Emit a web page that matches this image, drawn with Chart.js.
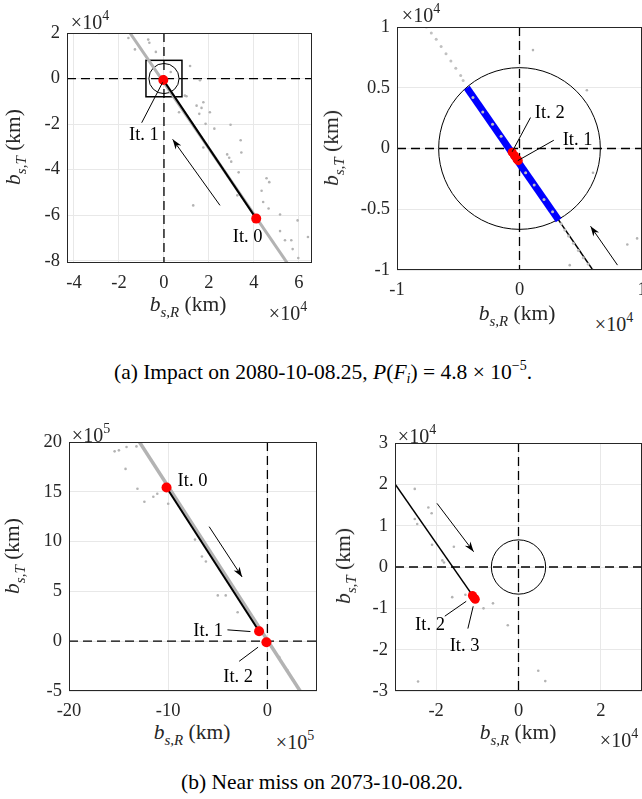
<!DOCTYPE html>
<html>
<head>
<meta charset="utf-8">
<script src="https://cdn.jsdelivr.net/npm/chart.js@4/dist/chart.umd.min.js"></script>
<style>
body{margin:0;background:#fff;width:642px;height:799px;position:relative;overflow:hidden;font-family:"Liberation Serif","Times New Roman",serif;color:#000}
canvas{position:absolute}
.t{position:absolute;white-space:nowrap;transform:translate(-50%,-50%);color:#262626;line-height:1}
.ax{font-size:21.5px}
.ax sub{font-size:15px;font-style:italic;vertical-align:-6px}
.yt{transform:translate(-50%,-50%) rotate(-90deg)}
.mul{font-size:20px}
.mul sup{font-size:14px;vertical-align:9px}
.cap{font-size:21.5px;color:#000}
.cap sup{font-size:14px;vertical-align:9px}
.cap sub{font-size:14px;vertical-align:-4px}
</style>
</head>
<body>
<canvas id="c1" width="328" height="300" style="left:0;top:0"></canvas>
<canvas id="c2" width="338" height="300" style="left:320px;top:0"></canvas>
<canvas id="c3" width="333" height="320" style="left:0;top:400px"></canvas>
<canvas id="c4" width="338" height="320" style="left:320px;top:400px"></canvas>

<div class="t mul" style="left:90px;top:20px">&times;10<sup>4</sup></div>
<div class="t mul" style="left:421px;top:13px">&times;10<sup>4</sup></div>
<div class="t mul" style="left:91px;top:433px">&times;10<sup>5</sup></div>
<div class="t mul" style="left:417px;top:434px">&times;10<sup>4</sup></div>
<div class="t mul" style="left:288px;top:311px">&times;10<sup>4</sup></div>
<div class="t mul" style="left:614px;top:322px">&times;10<sup>4</sup></div>
<div class="t mul" style="left:295px;top:740px">&times;10<sup>5</sup></div>
<div class="t mul" style="left:619px;top:738px">&times;10<sup>4</sup></div>

<div class="t ax" style="left:188px;top:307px"><i>b</i><sub>s,R</sub> (km)</div>
<div class="t ax" style="left:517px;top:316px"><i>b</i><sub>s,R</sub> (km)</div>
<div class="t ax" style="left:192px;top:735px"><i>b</i><sub>s,R</sub> (km)</div>
<div class="t ax" style="left:518px;top:735px"><i>b</i><sub>s,R</sub> (km)</div>
<div class="t ax yt" style="left:16px;top:147px"><i>b</i><sub>s,T</sub> (km)</div>
<div class="t ax yt" style="left:334px;top:148px"><i>b</i><sub>s,T</sub> (km)</div>
<div class="t ax yt" style="left:15px;top:556px"><i>b</i><sub>s,T</sub> (km)</div>
<div class="t ax yt" style="left:346px;top:566px"><i>b</i><sub>s,T</sub> (km)</div>

<div class="t cap" style="left:323px;top:372px">(a) Impact on 2080-10-08.25, <i>P</i>(<i>F<sub>i</sub></i>) = 4.8 &times; 10<sup>&minus;5</sup>.</div>
<div class="t cap" style="left:322px;top:783px">(b) Near miss on 2073-10-08.20.</div>

<script>
// ---- plot (a) left, units x1e4 km
const a1XTicks = [-4, -2, 0, 2, 4, 6];
const a1YTicks = [-8, -6, -4, -2, 0, 2];
const a1Track = [[-1.55, 2.06], [5.55, -8.2]];
const a1Scatter = [[-2.89,2.0],[-1.58,1.78],[-1.29,1.28],[-0.70,1.71],[-0.65,1.57],[-0.36,1.17],[1.16,0.55],[1.6,-0.07],[0.3,0.29],
  [0.93,-0.75],[1.0,-0.78],[1.45,-1.19],[1.75,-1.04],[1.67,-1.29],[2.04,-1.48],[1.57,-1.55],[0.67,-1.48],[1.85,-1.99],[2.24,-2.2],
  [2.96,-2.03],[1.75,-3.03],[2.81,-3.33],[2.9,-3.48],[2.99,-3.65],[3.41,-2.71],[3.44,-3.25],[3.32,-4.12],[3.26,-5.13],[1.3,-5.57],
  [4.56,-4.38],[4.68,-4.55],[4.34,-4.93],[4.41,-5.42],[4.65,-5.71],[5.16,-5.97],[5.94,-6.23],[5.16,-6.7],[5.38,-7.1],[5.66,-7.1],
  [6.4,-6.96],[5.72,-7.49],[5.97,-7.88]];
const a1Iter = [[4.1, -6.15], [-0.03, -0.06]];
const a1Labels = [["It. 1", -0.89, -2.49], ["It. 0", 3.72, -6.96]];
const a1Leaders = [[-0.99, -1.94, -0.06, -0.17]];
const a1Arrow = [2.49, -5.57, 0.385, -2.67];
const a1Circle = 0.67;
const a1Box = 0.8;

// ---- plot (a) right, units x1e4 km
const a2XTicks = [-1, 0, 1];
const a2YTicks = [-1, -0.5, 0, 0.5, 1];
const a2Band = [[-0.43, 0.50], [0.32, -0.59]];
const a2Track = [[-0.76,1.0],[-0.72,0.95],[-0.68,0.9],[-0.64,0.84],[-0.6,0.78],[-0.56,0.72],[-0.52,0.66],[-0.48,0.6],[-0.46,0.56],
  [-0.38,0.42],[-0.3,0.3],[-0.22,0.2],[-0.15,0.1],[0.05,-0.2],[0.12,-0.3],[0.2,-0.42],[0.27,-0.52],
  [0.34,-0.62],[0.37,-0.67],[0.4,-0.72],[0.44,-0.78],[0.48,-0.84],[0.52,-0.9],[0.56,-0.95],[0.6,-1.0]];
const a2Scatter = [[0.11,0.81],[0.55,0.48],[0.6,-0.2],[0.41,-0.96],[0.88,-0.79],[0.96,-0.74]];
const a2Path = [[4.1, -6.15], [-0.02, -0.09]];
const a2Iter = [[-0.06,-0.03],[-0.04,-0.06],[-0.02,-0.09],[-0.01,-0.1]];
const a2Labels = [["It. 2", 0.247, 0.293], ["It. 1", 0.474, 0.068]];
const a2Leaders = [[0.09, 0.255, -0.06, -0.027], [0.28, 0.068, -0.014, -0.10]];
const a2Arrow = [0.80, -0.96, 0.58, -0.64];
const a2Circle = 0.66;

// ---- plot (b) left, units x1e5 km
const b1XTicks = [-20, -10, 0];
const b1YTicks = [-5, 0, 5, 10, 15, 20];
const b1Track = [[-12.9, 20], [3.3, -5]];
const b1Scatter = [[-15.4,19.06],[-14.97,19.16],[-14.2,19.5],[-13.2,19.56],[-14.3,17.3],[-13.1,15.3],[-12.4,14.0],[-11.5,14.5],
  [-11.1,14.8],[-10,13.8],[-6.6,8.5],[-5,4.6],[-7.3,10.2],[-6.2,8.0],[-4.2,4.6],[-3.0,2.9],[1.2,-1.6],[2.0,-2.9],[2.6,-3.9],[3.0,-4.6]];
const b1Iter = [[-10.17, 15.43], [-0.84, 1.0], [-0.1, -0.1]];
const b1Labels = [["It. 0", -7.55, 16.03], ["It. 1", -5.97, 0.97], ["It. 2", -2.95, -3.63]];
const b1Leaders = [[-4.03, 1.14, -1.71, 0.97], [-2.85, -2.02, -0.94, -0.6]];
const b1Arrow = [-5.87, 11.5, -2.55, 6.45];

// ---- plot (b) right, units x1e4 km
const b2XTicks = [-2, 0, 2];
const b2YTicks = [-3, -2, -1, 0, 1, 2, 3];
const b2Path = [[-3.0, 2.01], [-1.1, -0.71]];
const b2Scatter = [[-2.52,1.89],[-2.19,1.44],[-2.11,1.3],[-2.52,1.16],[-2.46,1.04],[-2.1,0.54],[-1.85,0.16],[-1.81,0.11],[-1.57,0.49],
  [-1.61,-0.73],[-1.29,-0.67],[-0.85,-1.0],[-0.62,-0.88],[-0.26,-1.41],[-2.44,-2.77],[0.48,-2.51],[0.65,-2.76]];
const b2Iter = [[-1.12,-0.69],[-1.09,-0.73],[-1.07,-0.76],[-1.05,-0.78]];
const b2Labels = [["It. 2", -2.15, -1.41], ["It. 3", -1.31, -1.92]];
const b2Leaders = [[-1.79, -1.19, -1.27, -0.83], [-1.23, -1.49, -1.10, -0.95]];
const b2Arrow = [-1.98, 1.54, -1.09, 0.37];
const b2Circle = 0.66;

const toXY = arr => arr.map(p => ({x: p[0], y: p[1]}));
const seg = (pts, color, w) => ({data: toXY(pts), showLine: true, borderColor: color, borderWidth: w, pointRadius: 0, fill: false});
const dots = (pts, color, r) => ({data: toXY(pts), showLine: false, pointRadius: r, pointBackgroundColor: color, pointBorderWidth: 0, borderColor: color});

const GRAY = '#b3b3b3';
const FAMILY = '"Liberation Serif", "Times New Roman", serif';
const FONT = '18.5px ' + FAMILY;

const overlay = {
  id: 'overlay',
  beforeDatasetsDraw(chart, args, o) {
    const {ctx, chartArea: a, scales: {x, y}} = chart;
    ctx.save();
    ctx.beginPath(); ctx.rect(a.left, a.top, a.width, a.height); ctx.clip();
    ctx.strokeStyle = '#000'; ctx.lineWidth = 1.3; ctx.setLineDash([9, 5]);
    ctx.beginPath();
    ctx.moveTo(a.left, y.getPixelForValue(0)); ctx.lineTo(a.right, y.getPixelForValue(0));
    ctx.moveTo(x.getPixelForValue(0), a.top); ctx.lineTo(x.getPixelForValue(0), a.bottom);
    ctx.stroke();
    ctx.setLineDash([]);
    ctx.lineWidth = 1;
    if (o.circle) {
      const r = x.getPixelForValue(o.circle) - x.getPixelForValue(0);
      ctx.beginPath(); ctx.arc(x.getPixelForValue(0), y.getPixelForValue(0), r, 0, Math.PI * 2); ctx.stroke();
    }
    if (o.box) {
      ctx.lineWidth = 1.5;
      const l = x.getPixelForValue(-o.box), r = x.getPixelForValue(o.box);
      const t = y.getPixelForValue(o.box), b = y.getPixelForValue(-o.box);
      ctx.strokeRect(l, t, r - l, b - t);
    }
    ctx.restore();
  },
  afterDatasetsDraw(chart, args, o) {
    const {ctx, chartArea: a, scales: {x, y}} = chart;
    ctx.save();
    ctx.strokeStyle = '#000'; ctx.fillStyle = '#000'; ctx.lineWidth = 1;
    (o.leaders || []).forEach(l => {
      ctx.beginPath();
      ctx.moveTo(x.getPixelForValue(l[0]), y.getPixelForValue(l[1]));
      ctx.lineTo(x.getPixelForValue(l[2]), y.getPixelForValue(l[3]));
      ctx.stroke();
    });
    if (o.arrow) {
      const x0 = x.getPixelForValue(o.arrow[0]), y0 = y.getPixelForValue(o.arrow[1]);
      const x1 = x.getPixelForValue(o.arrow[2]), y1 = y.getPixelForValue(o.arrow[3]);
      const ang = Math.atan2(y1 - y0, x1 - x0);
      ctx.beginPath(); ctx.moveTo(x0, y0); ctx.lineTo(x1, y1); ctx.stroke();
      ctx.beginPath();
      ctx.moveTo(x1, y1);
      ctx.lineTo(x1 - 10 * Math.cos(ang) + 3.5 * Math.sin(ang), y1 - 10 * Math.sin(ang) - 3.5 * Math.cos(ang));
      ctx.lineTo(x1 - 7 * Math.cos(ang), y1 - 7 * Math.sin(ang));
      ctx.lineTo(x1 - 10 * Math.cos(ang) - 3.5 * Math.sin(ang), y1 - 10 * Math.sin(ang) + 3.5 * Math.cos(ang));
      ctx.closePath(); ctx.fill();
    }
    ctx.font = FONT; ctx.textAlign = 'center'; ctx.textBaseline = 'middle';
    (o.labels || []).forEach(l => ctx.fillText(l[0], x.getPixelForValue(l[1]), y.getPixelForValue(l[2])));
    ctx.lineWidth = 1; ctx.strokeStyle = '#262626';
    ctx.strokeRect(a.left + 0.5, a.top + 0.5, a.width - 1, a.height - 1);
    ctx.restore();
  }
};

function makePlot(id, p) {
  const axis = (min, max, ticks) => ({
    type: 'linear', min: min, max: max,
    grid: {color: '#e8e8e8', drawTicks: false},
    border: {display: false},
    ticks: {color: '#262626', font: {family: FAMILY, size: 18.5}, callback: v => String(v)},
    afterBuildTicks: s => { s.ticks = ticks.map(v => ({value: v})); }
  });
  const xs = axis(p.xr[0], p.xr[1], p.xTicks);
  xs.ticks.padding = 9;
  xs.afterFit = s => { s.height = p.xh; };
  const ys = axis(p.yr[0], p.yr[1], p.yTicks);
  ys.ticks.padding = 7;
  ys.afterFit = s => { s.width = p.yw; };
  new Chart(document.getElementById(id), {
    type: 'scatter',
    data: {datasets: p.datasets},
    options: {
      responsive: false, animation: false, events: [],
      layout: {padding: {top: p.top, right: 16, left: 0, bottom: 0}},
      plugins: {legend: {display: false}, tooltip: {enabled: false}, overlay: p.extra},
      scales: {x: xs, y: ys}
    },
    plugins: [overlay]
  });
}

makePlot('c1', {
  xr: [-4.31, 6.58], yr: [-8.1, 2], xTicks: a1XTicks, yTicks: a1YTicks,
  top: 33, yw: 67, xh: 37,
  datasets: [dots(a1Iter, '#ff0000', 5), seg(a1Iter, '#000', 2), dots(a1Scatter, GRAY, 1.3), seg(a1Track, GRAY, 3)],
  extra: {circle: a1Circle, box: a1Box, labels: a1Labels, leaders: a1Leaders, arrow: a1Arrow}
});

makePlot('c2', {
  xr: [-1, 1], yr: [-1, 1], xTicks: a2XTicks, yTicks: a2YTicks,
  top: 27, yw: 77, xh: 30,
  datasets: [dots(a2Iter, '#ff0000', 4.5), dots(a2Track, '#c0c0c0', 1.5), seg(a2Band, '#0000ff', 7), seg(a2Path, '#000', 1.5), dots(a2Scatter, GRAY, 1.3)],
  extra: {circle: a2Circle, labels: a2Labels, leaders: a2Leaders, arrow: a2Arrow}
});

makePlot('c3', {
  xr: [-20, 5], yr: [-5, 20], xTicks: b1XTicks, yTicks: b1YTicks,
  top: 42, yw: 69, xh: 29,
  datasets: [dots(b1Iter, '#ff0000', 5), seg(b1Iter.slice(0, 2), '#000', 2), dots(b1Scatter, GRAY, 1.3), seg(b1Track, GRAY, 3.5)],
  extra: {labels: b1Labels, leaders: b1Leaders, arrow: b1Arrow}
});

makePlot('c4', {
  xr: [-3, 3], yr: [-3, 3], xTicks: b2XTicks, yTicks: b2YTicks,
  top: 43, yw: 75, xh: 29,
  datasets: [dots(b2Iter, '#ff0000', 4.5), seg(b2Path, '#000', 1.5), dots(b2Scatter, GRAY, 1.3)],
  extra: {circle: b2Circle, labels: b2Labels, leaders: b2Leaders, arrow: b2Arrow}
});
</script>
</body>
</html>
